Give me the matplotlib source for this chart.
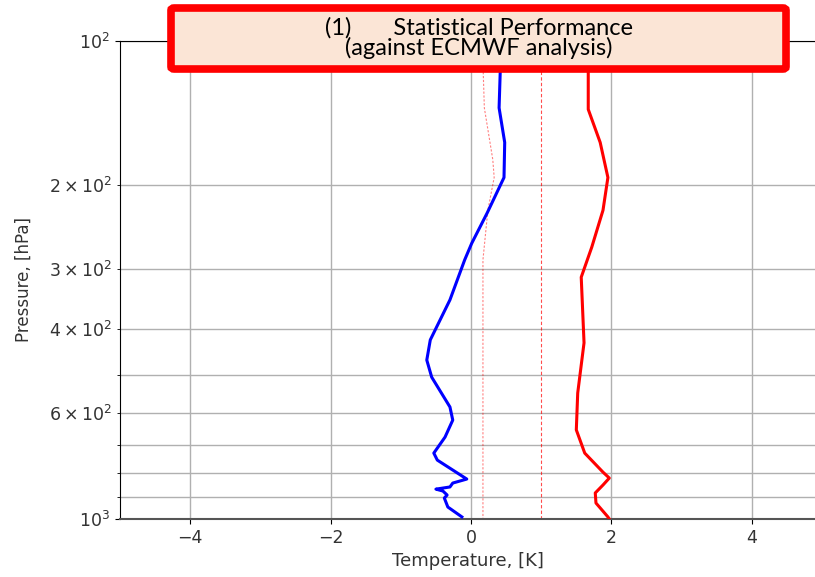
import matplotlib as mpl
import matplotlib.pyplot as plt
from matplotlib.patches import FancyBboxPatch
from matplotlib.ticker import FuncFormatter, LogLocator

# values (pressure in hPa, temperature in K)
p_bias = [100, 138, 163, 193, 229, 265, 287, 348, 422, 465, 505, 583, 621, 674,
          728, 753, 825, 841, 857, 866, 874, 891, 904, 944, 990]
t_bias = [0.43, 0.40, 0.48, 0.47, 0.23, 0.01, -0.09, -0.30, -0.58, -0.63, -0.56,
          -0.30, -0.26, -0.37, -0.53, -0.48, -0.06, -0.26, -0.30, -0.50, -0.40,
          -0.34, -0.38, -0.33, -0.13]

p_rmse = [100, 139, 163, 193, 226, 270, 312, 428, 545, 651, 728, 798, 821, 849,
          882, 926, 990, 1000]
t_rmse = [1.67, 1.67, 1.84, 1.95, 1.88, 1.72, 1.57, 1.61, 1.52, 1.50, 1.62, 1.88,
          1.97, 1.88, 1.77, 1.78, 1.95, 1.97]

p_ref = [100, 138, 177, 193, 226, 287, 1000]
t_ref = [0.16, 0.19, 0.31, 0.33, 0.24, 0.17, 0.17]

ref_line = 1.0

mpl.rcParams.update({
    "font.size": 12.5,
})

fig = plt.figure(figsize=(8.15, 5.77), dpi=100)
ax = fig.add_axes([120 / 815, 1 - 519 / 577, 1 - 120 / 815, (519 - 41) / 577])

ax.plot(t_bias, p_bias, color="#0000ff", lw=2.2, zorder=3)
ax.plot(t_rmse, p_rmse, color="#ff0000", lw=2.2, zorder=3)
ax.plot(t_ref, p_ref, color="#ff0000", lw=0.8, ls=(0, (2, 1.5)), alpha=0.5, zorder=2)
ax.axvline(ref_line, color="#ff0000", lw=0.8, ls=(0, (3, 2)), alpha=0.7, zorder=2)

ax.set_yscale("log")
ax.set_ylim(1000, 100)
ax.set_xlim(-5, 4.9)
ax.set_xticks([-4, -2, 0, 2, 4])
ax.yaxis.set_major_locator(LogLocator(base=10, subs=(1.0,)))
ax.yaxis.set_minor_locator(LogLocator(base=10, subs=(2, 3, 4, 5, 6, 7, 8, 9)))


def minor_fmt(v, pos):
    m = int(round(v / 100))
    if m in (2, 3, 4, 6):
        return r"$\mathdefault{%d\times10^{2}}$" % m
    return ""


ax.yaxis.set_minor_formatter(FuncFormatter(minor_fmt))
ax.grid(True, which="major", axis="x", color="#b0b0b0", lw=1)
ax.grid(True, which="both", axis="y", color="#b0b0b0", lw=1)
ax.set_axisbelow(True)

ax.spines["right"].set_visible(False)
ax.spines["bottom"].set_color("#555555")
ax.spines["bottom"].set_linewidth(1.5)

ax.set_xlabel("Temperature, [K]", color="#333333", fontsize=13)
ax.set_ylabel("Pressure, [hPa]", color="#333333", fontsize=12)
ax.yaxis.set_label_coords(-0.126, 0.5)
ax.tick_params(labelcolor="#333333", which="both")

# title box
box = FancyBboxPatch((171 / 815, 1 - 69 / 577), 615 / 815, 61 / 577,
                     boxstyle="round,pad=0,rounding_size=0.004",
                     transform=fig.transFigure, fc="#fbe5d6", ec="#ff0000",
                     lw=5.5, zorder=5)
fig.add_artist(box)
fig.text(479 / 815, 1 - 38 / 577, "(1)       Statistical Performance\n(against ECMWF analysis)",
         ha="center", va="center", fontsize=17, family="Lato", linespacing=0.9,
         color="black", zorder=6)

fig.savefig("out.png")
